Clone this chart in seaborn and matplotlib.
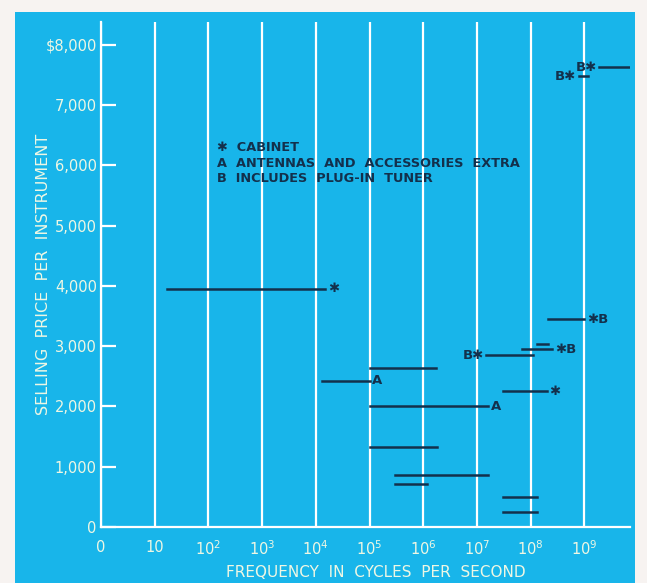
import numpy as np
import pandas as pd
import matplotlib
matplotlib.use("Agg")
import matplotlib.pyplot as plt
from matplotlib.patches import Rectangle
from matplotlib.ticker import FixedLocator, NullLocator
import seaborn as sns

# Frequency coverage (cycles per second) and selling price of each instrument
seg_low = [17, 1.3e4, 1e5, 1e5, 1e5, 3e5, 3e5, 1.5e7, 7e7, 1.3e8, 2.1e8, 3e7, 3e7, 3e7, 1.9e9, 8.0e8]
seg_high = [1.5e4, 1e5, 1.7e6, 1.6e7, 1.8e6, 1.6e7, 1.2e6, 1.1e8, 2.5e8, 2.1e8, 1e9, 2e8, 1.3e8, 1.3e8, 6.8e9, 1.15e9]
seg_price = [3950, 2430, 2640, 2000, 1330, 860, 710, 2850, 2950, 3030, 3450, 2250, 500, 250, 7630, 7480]

# Footnote markers: (segment index, which end, marker text)
note_seg = [0, 1, 3, 7, 8, 10, 11, 14, 15]
note_side = ["end", "end", "end", "start", "end", "end", "end", "start", "start"]
note_text = ["✱", "A", "A", "B✱", "✱B", "✱B", "✱", "B✱", "B✱"]

key_lines = ["✱  CABINET", "A  ANTENNAS  AND  ACCESSORIES  EXTRA", "B  INCLUDES  PLUG-IN  TUNER"]

y_ticks = [0, 1000, 2000, 3000, 4000, 5000, 6000, 7000, 8000]
y_labels = ["0", "1,000", "2,000", "3,000", "4,000", "5,000", "6,000", "7,000", "$8,000"]
x_ticks = [1e0, 1e1, 1e2, 1e3, 1e4, 1e5, 1e6, 1e7, 1e8, 1e9]
x_labels = ["0", "10", r"$\mathregular{10^{2}}$", r"$\mathregular{10^{3}}$", r"$\mathregular{10^{4}}$",
            r"$\mathregular{10^{5}}$", r"$\mathregular{10^{6}}$", r"$\mathregular{10^{7}}$",
            r"$\mathregular{10^{8}}$", r"$\mathregular{10^{9}}$"]

BLUE = "#18b5ea"
INK = "#13304c"
PALE = "#eef7e4"
PAPER = "#f7f3f1"

plt.rcParams["font.family"] = ["DejaVu Sans"]

rows = []
for i, (lo, hi, p) in enumerate(zip(seg_low, seg_high, seg_price)):
    rows.append({"seg": i, "freq": lo, "price": p})
    rows.append({"seg": i, "freq": hi, "price": p})
df = pd.DataFrame(rows)

W, H = 647, 583
fig = plt.figure(figsize=(6.47, 5.83), dpi=100, facecolor=BLUE)
# paper margins around the printed panel
for x0, y0, w, h in [(0, 0, 15, H), (635, 0, 12, H), (0, H - 12, W, 12)]:
    fig.patches.append(Rectangle((x0 / W, y0 / H), w / W, h / H, transform=fig.transFigure,
                                 facecolor=PAPER, edgecolor="none"))

ax = fig.add_axes([101 / W, 56 / H, 529 / W, 505 / H])
ax.set_facecolor(BLUE)

sns.lineplot(data=df, x="freq", y="price", units="seg", estimator=None, sort=False,
             color=INK, lw=1.8, ax=ax, zorder=3)

ax.set_xscale("log")
ax.set_xlim(1, 10 ** 9.85)
ax.set_ylim(0, 8380)

ax.xaxis.set_major_locator(FixedLocator(x_ticks))
ax.xaxis.set_minor_locator(NullLocator())
ax.set_xticklabels(x_labels)
ax.set_yticks(y_ticks)
ax.set_yticklabels(y_labels)

for s in ["top", "right"]:
    ax.spines[s].set_visible(False)
for s in ["left", "bottom"]:
    ax.spines[s].set_color("white")
    ax.spines[s].set_linewidth(1.6)

ax.grid(axis="x", color="white", lw=1.6, zorder=1)
ax.grid(axis="y", visible=False)
ax.set_axisbelow(True)

ax.tick_params(axis="y", direction="in", length=11, width=1.6, color="white",
               labelcolor=PALE, labelsize=10.5, pad=3)
ax.tick_params(axis="x", length=0, labelcolor=PALE, labelsize=10.5, pad=9)

ax.set_xlabel("FREQUENCY  IN  CYCLES  PER  SECOND", color=PALE, fontsize=11)
ax.set_ylabel("SELLING  PRICE  PER  INSTRUMENT", color=PALE, fontsize=11.5)
ax.xaxis.set_label_coords(0.52, -0.076)
ax.yaxis.set_label_coords(-0.094, 0.5)

# footnote markers at the segment ends
for i, side, txt in zip(note_seg, note_side, note_text):
    if side == "end":
        xy, ha, dx = (seg_high[i], seg_price[i]), "left", 2
    else:
        xy, ha, dx = (seg_low[i], seg_price[i]), "right", -2
    ax.annotate(txt, xy=xy, xytext=(dx, 0), textcoords="offset points", ha=ha, va="center",
                color=INK, fontsize=9.5, fontweight="bold", zorder=4)

ax.text(10 ** 2.16, 6400, "\n".join(key_lines), ha="left", va="top", color=INK,
        fontsize=9.3, fontweight="bold", linespacing=1.25, zorder=4)

fig.savefig("out.png", dpi=100, facecolor=fig.get_facecolor())
